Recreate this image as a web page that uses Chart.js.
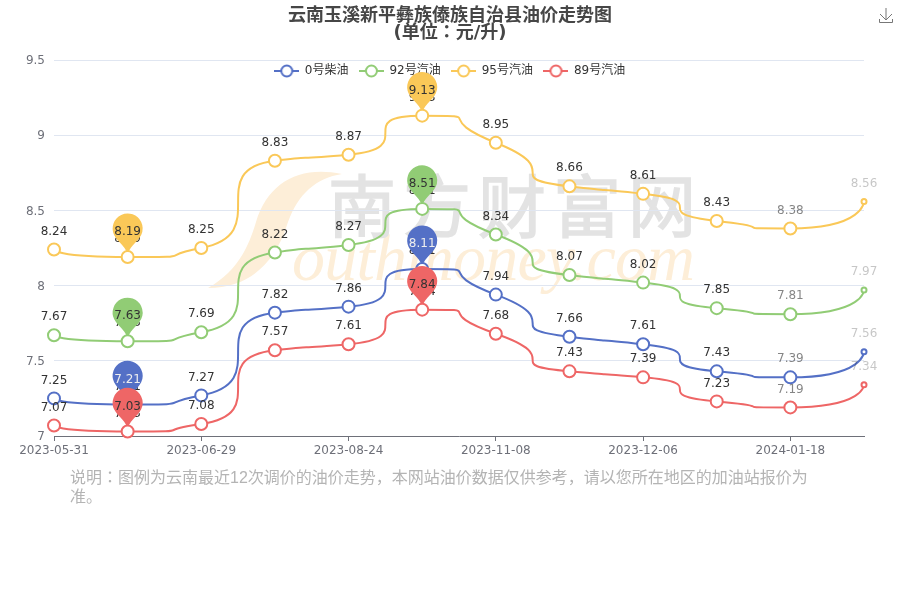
<!DOCTYPE html>
<html>
<head>
<meta charset="utf-8">
<script src="https://cdn.jsdelivr.net/npm/chart.js@4"></script>
<style>
html, body { margin: 0; padding: 0; background: #fff; }
#wrap { position: relative; width: 900px; height: 600px; overflow: hidden; font-family: "DejaVu Sans", "Noto Sans CJK JP", sans-serif; }
#mark, #myChart, #save { position: absolute; left: 0; top: 0; }
#note { position: absolute; left: 70px; top: 468px; width: 745px; font-family: "Liberation Sans", "Noto Sans CJK JP", sans-serif; font-size: 16px; line-height: 19px; color: #b4b4b4; }
</style>
</head>
<body>
<div id="wrap">
    <svg id="mark" width="900" height="600">
        <path d="M342 174 C300 165 268 182 256 222 C246 256 232 274 208 288 C250 288 276 262 288 222 C298 194 316 178 342 174 Z" fill="#fdeed8"/>
        <text x="292" y="280" font-family="Liberation Serif" font-style="italic" font-size="66" letter-spacing="-0.8" fill="#fdeed8">outhmoney.com</text>
        <text x="328" y="232" font-family="Noto Sans CJK SC" font-weight="400" font-size="68" letter-spacing="7" fill="#e3e3e3" stroke="#e3e3e3" stroke-width="1.5">南方财富网</text>
    </svg>
    <canvas id="myChart" width="900" height="600"></canvas>
    <svg id="save" width="900" height="40">
        <path d="M886 8 V20 M880 14 L886 20 L892 14 M879.5 19 V22.5 H892.5 V19" fill="none" stroke="#777" stroke-width="1"/>
    </svg>
    <div id="note">说明：图例为云南最近12次调价的油价走势，本网站油价数据仅供参考，请以您所在地区的加油站报价为准。</div>
</div>
<script>
var dates = ['2023-05-31', '2023-06-14', '2023-06-29', '2023-07-26', '2023-08-24', '2023-09-20',
    '2023-11-08', '2023-11-22', '2023-12-06', '2023-12-20', '2024-01-18', '2024-02-01'];
var diesel0 = [7.25, 7.21, 7.27, 7.82, 7.86, 8.11, 7.94, 7.66, 7.61, 7.43, 7.39, 7.56];
var gas92 = [7.67, 7.63, 7.69, 8.22, 8.27, 8.51, 8.34, 8.07, 8.02, 7.85, 7.81, 7.97];
var gas95 = [8.24, 8.19, 8.25, 8.83, 8.87, 9.13, 8.95, 8.66, 8.61, 8.43, 8.38, 8.56];
var gas89 = [7.07, 7.03, 7.08, 7.57, 7.61, 7.84, 7.68, 7.43, 7.39, 7.23, 7.19, 7.34];
var names = ['0号柴油', '92号汽油', '95号汽油', '89号汽油'];
var colors = ['#5470C6', '#91CC75', '#FAC858', '#EE6666'];
var series = [diesel0, gas92, gas95, gas89];

var fontFamily = '"DejaVu Sans", "Noto Sans CJK JP", sans-serif';

function legendIcon(color) {
    var c = document.createElement('canvas');
    c.width = 25;
    c.height = 14;
    var g = c.getContext('2d');
    g.strokeStyle = color;
    g.lineWidth = 2;
    g.beginPath();
    g.moveTo(0, 7);
    g.lineTo(25, 7);
    g.stroke();
    g.beginPath();
    g.arc(12.5, 7, 5.5, 0, Math.PI * 2);
    g.fillStyle = '#fff';
    g.fill();
    g.stroke();
    return c;
}
var icons = colors.map(legendIcon);

// same curve as a smooth:1 echarts line, control points worked out from the scale positions
function smoothPoints(pts) {
    var smooth = 1;
    pts[0].cp2x = pts[0].x;
    pts[0].cp2y = pts[0].y;
    pts[pts.length - 1].cp1x = pts[pts.length - 1].x;
    pts[pts.length - 1].cp1y = pts[pts.length - 1].y;
    for (var i = 1; i < pts.length - 1; i++) {
        var p = pts[i - 1], c = pts[i], n = pts[i + 1];
        var lenPrev = Math.hypot(c.x - p.x, c.y - p.y);
        var lenNext = Math.hypot(n.x - c.x, n.y - c.y);
        var ratio = lenNext / (lenNext + lenPrev);
        var nx = c.x + (n.x - p.x) * smooth * ratio;
        var ny = c.y + (n.y - p.y) * smooth * ratio;
        nx = Math.max(Math.min(nx, Math.max(n.x, c.x)), Math.min(n.x, c.x));
        ny = Math.max(Math.min(ny, Math.max(n.y, c.y)), Math.min(n.y, c.y));
        var inx = c.x - (nx - c.x) * lenPrev / lenNext;
        var iny = c.y - (ny - c.y) * lenPrev / lenNext;
        inx = Math.max(Math.min(inx, Math.max(p.x, c.x)), Math.min(p.x, c.x));
        iny = Math.max(Math.min(iny, Math.max(p.y, c.y)), Math.min(p.y, c.y));
        nx = c.x + (c.x - inx) * lenNext / lenPrev;
        ny = c.y + (c.y - iny) * lenNext / lenPrev;
        c.cp1x = inx;
        c.cp1y = iny;
        c.cp2x = nx;
        c.cp2y = ny;
    }
}

function drawPin(ctx, x, y, color) {
    var w = 30, h = 50, r = w / 2;
    var dy = r * r / (h - r);
    var cy = y - h + r + dy;
    var angle = Math.asin(dy / r);
    var dx = Math.cos(angle) * r;
    var tanX = Math.sin(angle), tanY = Math.cos(angle);
    var cpLen = r * 0.6, cpLen2 = r * 0.7;
    ctx.beginPath();
    ctx.moveTo(x - dx, cy + dy);
    ctx.arc(x, cy, r, Math.PI - angle, Math.PI * 2 + angle);
    ctx.bezierCurveTo(x + dx - tanX * cpLen, cy + dy + tanY * cpLen, x, y - cpLen2, x, y);
    ctx.bezierCurveTo(x, y - cpLen2, x - dx + tanX * cpLen, cy + dy + tanY * cpLen, x - dx, cy + dy);
    ctx.closePath();
    ctx.fillStyle = color;
    ctx.fill();
}

var marksPlugin = {
    id: 'marks',
    beforeLayout: function(chart) {
        // legend floats over the plot, so it must not take any layout height
        var legend = chart.legend;
        if (!legend._noHeight) {
            var fit = legend.fit;
            legend.fit = function() {
                fit.call(this);
                this.height = 0;
            };
            legend._noHeight = true;
        }
    },
    afterLayout: function(chart) {
        // title and legend are centred on the whole 900px, not on the padded box
        [chart.titleBlock, chart.legend].forEach(function(box) {
            box.left += 18;
            box.right += 18;
        });
        chart.legend.top -= 6;
        // legend draw clips to top..bottom
        chart.legend.bottom = chart.legend.top + 30;
    },
    beforeDatasetDraw: function(chart, args) {
        var ctx = chart.ctx;
        var meta = args.meta;
        var values = series[args.index];
        meta.dataset.updateControlPoints(chart.chartArea);
        smoothPoints(meta.data);

        ctx.save();
        ctx.font = '12px ' + fontFamily;
        ctx.textAlign = 'center';
        ctx.textBaseline = 'middle';
        meta.data.forEach(function(pt, i) {
            // last two columns were still fading in on the original
            ctx.globalAlpha = i === 11 ? 0.28 : (i === 10 ? 0.6 : 1);
            ctx.fillStyle = '#333';
            ctx.fillText(values[i].toFixed(2), pt.x, pt.y - 18);
        });
        ctx.globalAlpha = 1;
        var lo = values.indexOf(Math.min.apply(null, values));
        var hi = values.indexOf(Math.max.apply(null, values));
        [lo, hi].forEach(function(i) {
            var pt = meta.data[i];
            drawPin(ctx, pt.x, pt.y, colors[args.index]);
            ctx.fillStyle = args.index === 0 ? '#eee' : '#333';
            ctx.fillText(values[i].toFixed(2), pt.x, pt.y - 25);
        });
        ctx.restore();
    }
};

var myChart = new Chart(document.getElementById('myChart'), {
    type: 'line',
    data: {
        labels: dates,
        datasets: series.map(function(values, i) {
            return {
                label: names[i],
                data: values,
                order: 3 - i,
                clip: false,
                borderColor: colors[i],
                borderWidth: 2,
                tension: 0.4,
                pointBackgroundColor: '#fff',
                pointBorderColor: colors[i],
                pointBorderWidth: 2,
                pointRadius: function(c) { return c.dataIndex === 11 ? 2.5 : 6; }
            };
        })
    },
    options: {
        responsive: false,
        animation: false,
        events: [],
        layout: { padding: { right: 36 } },
        plugins: {
            tooltip: { enabled: false },
            title: {
                display: true,
                text: ['云南玉溪新平彝族傣族自治县油价走势图', '(单位：元/升)'],
                color: '#464646',
                font: { family: fontFamily, size: 18, weight: 'bold', lineHeight: '17px' },
                padding: { top: 8, bottom: 18 }
            },
            legend: {
                position: 'top',
                align: 'center',
                labels: {
                    usePointStyle: true,
                    pointStyleWidth: 24,
                    padding: 11,
                    color: '#333',
                    font: { family: fontFamily, size: 12 },
                    generateLabels: function(chart) {
                        return chart.data.datasets.map(function(d, i) {
                            return {
                                text: d.label,
                                datasetIndex: i,
                                pointStyle: icons[i],
                                fontColor: '#333',
                                lineWidth: 0,
                                strokeStyle: 'transparent',
                                fillStyle: 'transparent',
                                hidden: false
                            };
                        });
                    }
                }
            }
        },
        scales: {
            x: {
                afterFit: function(scale) { scale.height = 164; },
                afterBuildTicks: function(scale) {
                    scale.ticks = scale.ticks.filter(function(t) { return t.value % 2 === 0; });
                },
                grid: { drawOnChartArea: false, tickColor: '#6E7079', tickLength: 5 },
                border: { color: '#6E7079' },
                ticks: {
                    autoSkip: false,
                    maxRotation: 0,
                    padding: 3,
                    color: '#6E7079',
                    font: { family: fontFamily, size: 12 }
                }
            },
            y: {
                min: 7,
                max: 9.5,
                afterFit: function(scale) { scale.width = 54; },
                grid: { color: '#E0E6F1', drawTicks: false },
                border: { display: false },
                ticks: {
                    stepSize: 0.5,
                    padding: 9,
                    labelOffset: 1,
                    color: '#6E7079',
                    font: { family: fontFamily, size: 12 },
                    callback: function(v) { return String(v); }
                }
            }
        }
    },
    plugins: [marksPlugin]
});
</script>
</body>
</html>
